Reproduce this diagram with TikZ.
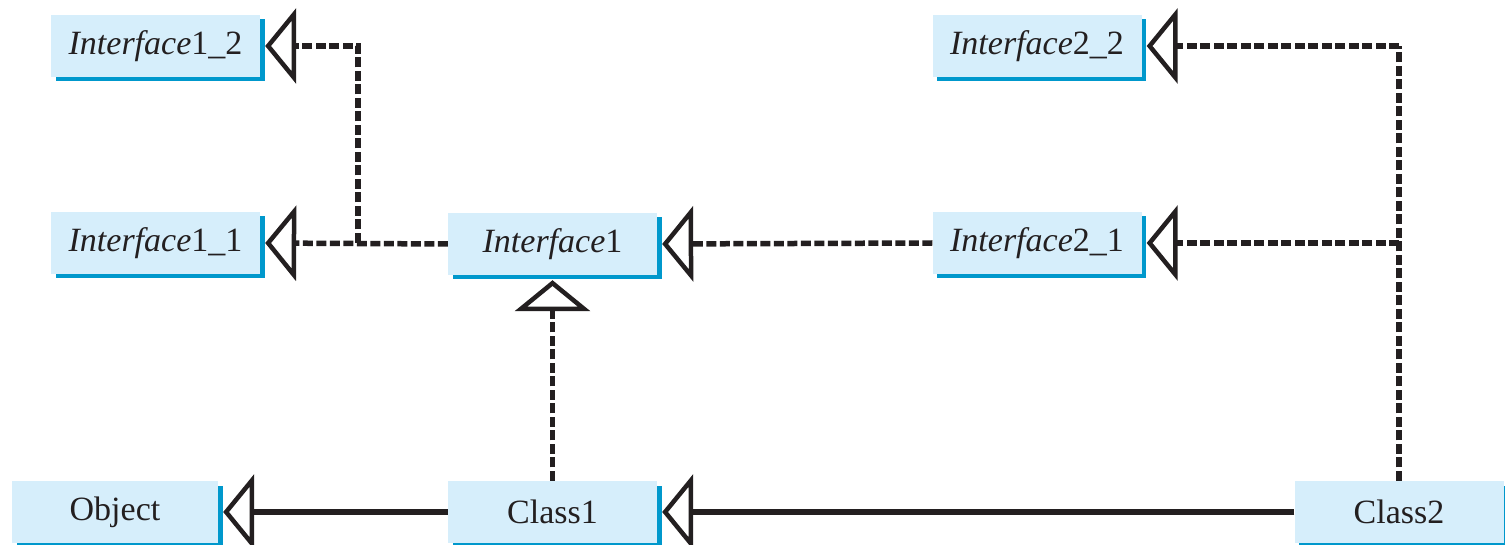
\documentclass[tikz,border=0pt]{standalone}
\usepackage{fontspec}
\setmainfont{Liberation Serif}
\usetikzlibrary{arrows.meta,shadows}
\definecolor{boxfill}{RGB}{214,238,251}
\definecolor{boxshadow}{RGB}{0,152,204}
\definecolor{ink}{RGB}{35,31,32}
\tikzset{
  umlbox/.style={fill=boxfill, draw=none, minimum width=209pt, minimum height=62pt, inner sep=0pt,
    font=\fontsize{34}{34}\selectfont, text=ink,
    drop shadow={shadow xshift=4.5pt, shadow yshift=-4.5pt, fill=boxshadow, opacity=1}},
  inh/.style={-{Triangle[open, length=31pt, width=75pt, line width=4.5pt]}, line width=5.5pt, draw=ink, shorten >=5pt},
  dashline/.style={dash pattern=on 10pt off 3.5pt},
}
\newcommand{\ital}[1]{\textit{#1}}
\begin{document}
\begin{tikzpicture}[x=1pt,y=1pt]
\useasboundingbox (0,0) rectangle (1505,544);
\node[umlbox] (i12) at (155.5,498) {\ital{Interface}1\_2};
\node[umlbox] (i11) at (155.5,301) {\ital{Interface}1\_1};
\node[umlbox] (i1) at (552.5,300) {\ital{Interface}1};
\node[umlbox] (i22) at (1037,498) {\ital{Interface}2\_2};
\node[umlbox] (i21) at (1037,301) {\ital{Interface}2\_1};
\node[umlbox, minimum width=206pt] (obj) at (115,32) {Object};
\node[umlbox] (c1) at (552.5,32) {Class1};
\node[umlbox] (c2) at (1399,32) {Class2};
\coordinate (jl) at (358,301);
\coordinate (jr) at (1399,301);
\coordinate (jtop) at (1399,498);
% left interfaces
\draw[inh, dashline] (i1.west) -- (i11.east);
\draw[inh, dashline] (jl) |- (i12.east);
% Interface2_1 -> Interface1
\draw[inh, dashline] (i21.west) -- (i1.east);
% Class2 -> interfaces 2
\draw[line width=5.5pt, draw=ink, dashline] (c2.north) -- (jtop);
\draw[inh, dashline] (jtop) -- (i22.east);
\draw[inh, dashline] (jr) -- (i21.east);
% Class1 -> Interface1
\draw[inh, dashline] (c1.north) -- (i1.south);
% solid inheritance
\draw[inh] (c1.west) -- (obj.east);
\draw[inh] (c2.west) -- (c1.east);
\end{tikzpicture}
\end{document}
